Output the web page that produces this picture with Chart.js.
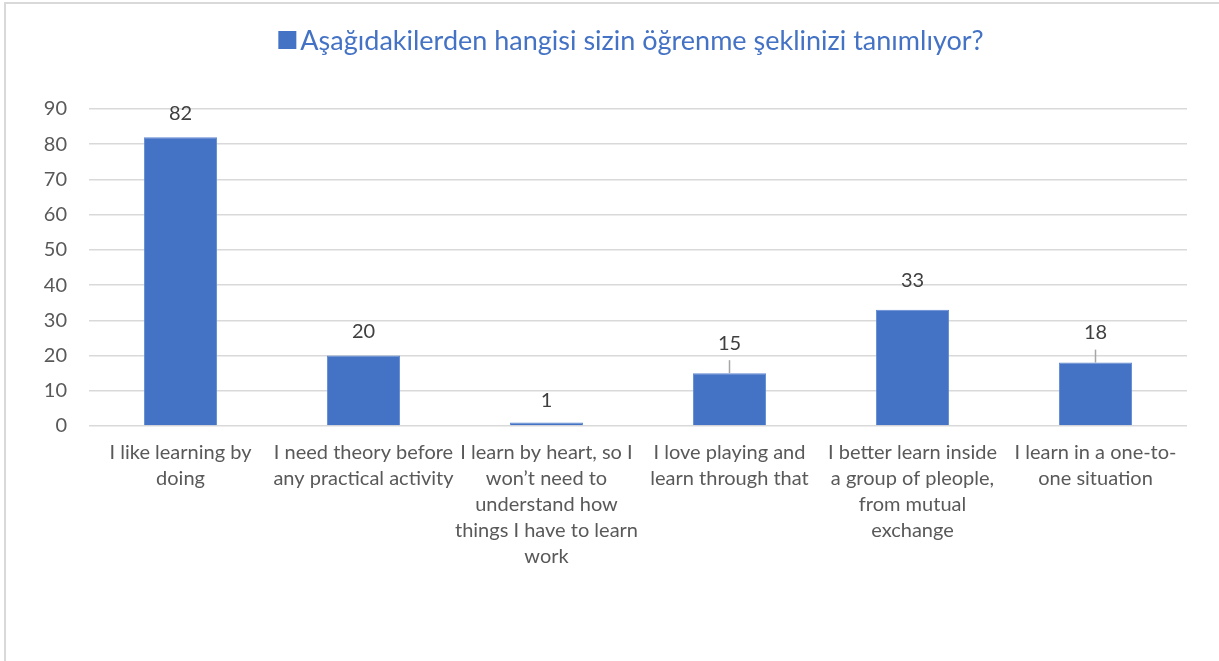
<!DOCTYPE html>
<html>
<head>
<meta charset="utf-8">
<script src="https://cdn.jsdelivr.net/npm/chart.js@4.4.1/dist/chart.umd.min.js"></script>
<style>
  body { margin: 0; background: #fff; overflow: hidden; }
  #wrap { position: relative; width: 1219px; height: 661px; }
  #frame { position: absolute; left: 4px; top: 2px; width: 1300px; height: 700px;
           border-top: 2px solid #d9d9d9; border-left: 2px solid #d9d9d9; }
  #chart { position: absolute; left: 0; top: 0; }
</style>
</head>
<body>
<div id="wrap">
  <div id="frame"></div>
  <canvas id="chart" width="1219" height="661"></canvas>
</div>
<script>
const seriesName = "Aşağıdakilerden hangisi sizin öğrenme şeklinizi tanımlıyor?";

const categories = [
  ["I like learning by", "doing"],
  ["I need theory before", "any practical activity"],
  ["I learn by heart, so I", "won’t need to", "understand how", "things I have to learn", "work"],
  ["I love playing and", "learn through that"],
  ["I better learn inside", "a group of pleople,", "from mutual", "exchange"],
  ["I learn in a one-to-", "one situation"]
];

const values = [82, 20, 1, 15, 33, 18];

const yTicks = [0, 10, 20, 30, 40, 50, 60, 70, 80, 90];

const FONT = "Lato, 'Open Sans', sans-serif";
const BLUE = "#4472C4";

// header drawn like the excel legend-title (square + series name)
const headerPlugin = {
  id: "header",
  afterDraw(chart, args, opts) {
    const ctx = chart.ctx;
    ctx.save();
    ctx.font = opts.fontSize + "px " + FONT;
    const label = chart.data.datasets[0].label;
    const tw = ctx.measureText(label).width;
    const total = opts.box + opts.gap + tw;
    const x0 = opts.centerX - total / 2;
    ctx.fillStyle = chart.data.datasets[0].backgroundColor;
    ctx.fillRect(x0, opts.centerY - opts.box / 2, opts.box, opts.box);
    ctx.fillStyle = opts.color;
    ctx.textBaseline = "middle";
    ctx.textAlign = "left";
    ctx.fillText(label, x0 + opts.box + opts.gap, opts.centerY + 1);
    ctx.restore();
  }
};

// value labels above bars, a few lifted with leader lines like in excel
const valueLabels = {
  id: "valueLabels",
  afterDatasetsDraw(chart, args, opts) {
    const ctx = chart.ctx;
    const meta = chart.getDatasetMeta(0);
    ctx.save();
    ctx.font = opts.fontSize + "px " + FONT;
    ctx.textAlign = "center";
    ctx.textBaseline = "middle";
    meta.data.forEach((bar, i) => {
      const off = opts.offsets[i];
      const ty = bar.y - off;
      if (opts.leaders[i]) {
        ctx.strokeStyle = "#a6a6a6";
        ctx.lineWidth = 1.5;
        ctx.beginPath();
        ctx.moveTo(bar.x, ty + 17);
        ctx.lineTo(bar.x, bar.y);
        ctx.stroke();
      }
      ctx.fillStyle = opts.color;
      ctx.fillText(chart.data.datasets[0].data[i], bar.x, ty);
    });
    ctx.restore();
  }
};

new Chart(document.getElementById("chart"), {
  type: "bar",
  data: {
    labels: categories,
    datasets: [
      {
        label: seriesName,
        data: values,
        backgroundColor: BLUE,
        borderColor: "#5f88d2",
        borderWidth: 1,
        barPercentage: 0.4,
        categoryPercentage: 1.0
      }
    ]
  },
  options: {
    responsive: false,
    animation: false,
    layout: {
      padding: { top: 109, right: 32, left: 0, bottom: 0 }
    },
    plugins: {
      legend: { display: false },
      tooltip: { enabled: false },
      header: { fontSize: 27, box: 18, gap: 4, centerX: 631, centerY: 40, color: BLUE },
      valueLabels: {
        fontSize: 20,
        color: "#404040",
        offsets: [24, 24, 22, 30, 29, 30],
        leaders: [false, false, false, true, false, true]
      }
    },
    scales: {
      x: {
        grid: { display: false },
        border: { display: false },
        ticks: {
          autoSkip: false,
          maxRotation: 0,
          minRotation: 0,
          padding: 6,
          color: "#595959",
          font: { family: FONT, size: 20, lineHeight: "26px" }
        },
        afterFit(scale) { scale.height = 235; }
      },
      y: {
        min: 0,
        max: 90,
        border: { display: false },
        grid: { color: "#d9d9d9", lineWidth: 1.5, drawTicks: false },
        afterBuildTicks(scale) { scale.ticks = yTicks.map(v => ({ value: v })); },
        ticks: {
          padding: 22,
          color: "#595959",
          font: { family: FONT, size: 20 }
        },
        afterFit(scale) { scale.width = 89; }
      }
    }
  },
  plugins: [headerPlugin, valueLabels]
});
</script>
</body>
</html>
